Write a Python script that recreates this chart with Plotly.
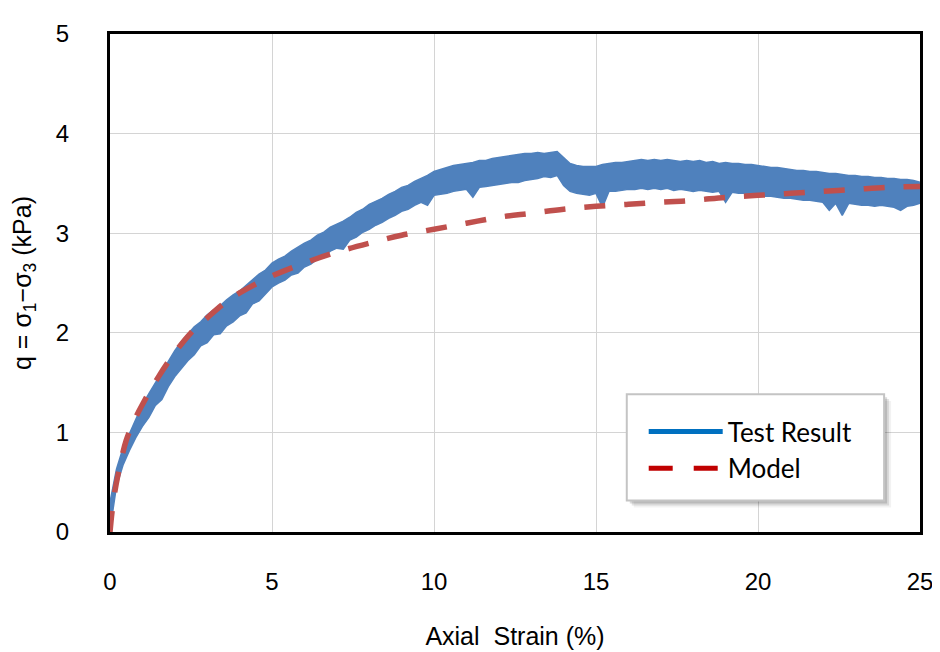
import numpy as np
import plotly.graph_objects as go

# Test result: noisy measured band, read as upper / lower edge every 0.2 % axial strain (0 .. 25 %)
TEST_Q_UPPER = [
    0.30, 0.63, 0.84, 0.99, 1.13, 1.28, 1.39, 1.50, 1.60, 1.71,
    1.82, 1.91, 1.98, 2.06, 2.11, 2.18, 2.23, 2.27, 2.33, 2.38,
    2.42, 2.48, 2.53, 2.59, 2.63, 2.70, 2.74, 2.77, 2.82, 2.86,
    2.90, 2.93, 2.98, 3.01, 3.06, 3.09, 3.12, 3.16, 3.21, 3.24,
    3.29, 3.32, 3.35, 3.39, 3.42, 3.46, 3.48, 3.52, 3.55, 3.58,
    3.62, 3.64, 3.66, 3.68, 3.69, 3.70, 3.71, 3.73, 3.73, 3.75,
    3.76, 3.77, 3.78, 3.79, 3.80, 3.80, 3.81, 3.80, 3.81, 3.82,
    3.76, 3.70, 3.68, 3.67, 3.67, 3.67, 3.69, 3.70, 3.71, 3.71,
    3.72, 3.73, 3.74, 3.73, 3.74, 3.73, 3.74, 3.73, 3.72, 3.73,
    3.72, 3.73, 3.71, 3.72, 3.70, 3.71, 3.70, 3.70, 3.69, 3.69,
    3.68, 3.67, 3.66, 3.66, 3.65, 3.64, 3.63, 3.63, 3.62, 3.62,
    3.61, 3.60, 3.60, 3.59, 3.58, 3.58, 3.57, 3.57, 3.56, 3.56,
    3.55, 3.55, 3.54, 3.54, 3.53, 3.51,
]
TEST_Q_LOWER = [
    0.02, 0.46, 0.67, 0.82, 0.95, 1.06, 1.15, 1.27, 1.33, 1.46,
    1.56, 1.64, 1.72, 1.78, 1.87, 1.90, 1.98, 1.99, 2.07, 2.11,
    2.17, 2.20, 2.29, 2.32, 2.39, 2.46, 2.50, 2.53, 2.58, 2.60,
    2.66, 2.69, 2.74, 2.77, 2.82, 2.85, 2.84, 2.93, 2.96, 3.01,
    3.04, 3.08, 3.11, 3.15, 3.18, 3.22, 3.24, 3.28, 3.31, 3.28,
    3.38, 3.39, 3.40, 3.42, 3.43, 3.44, 3.36, 3.46, 3.47, 3.48,
    3.49, 3.50, 3.51, 3.51, 3.53, 3.54, 3.55, 3.57, 3.56, 3.58,
    3.48, 3.42, 3.40, 3.39, 3.38, 3.40, 3.26, 3.42, 3.42, 3.43,
    3.44, 3.44, 3.45, 3.44, 3.45, 3.44, 3.45, 3.43, 3.44, 3.43,
    3.42, 3.43, 3.42, 3.41, 3.42, 3.31, 3.41, 3.40, 3.40, 3.39,
    3.38, 3.37, 3.37, 3.36, 3.35, 3.35, 3.34, 3.33, 3.33, 3.32,
    3.31, 3.23, 3.30, 3.18, 3.30, 3.29, 3.28, 3.28, 3.27, 3.28,
    3.27, 3.26, 3.23, 3.27, 3.28, 3.30,
]
TEST_STRAIN = np.round(np.arange(len(TEST_Q_UPPER)) * 0.2, 2)

# Model curve
MODEL_STRAIN = [0, 0.1, 0.25, 0.5, 0.75, 1, 1.5, 2, 2.5, 3, 3.5, 4, 5, 6, 7, 8, 9, 10,
                11, 12, 13, 14, 15, 16, 17, 18, 19, 20, 21, 22, 23, 24, 25]
MODEL_Q = [0, 0.30, 0.58, 0.92, 1.12, 1.28, 1.56, 1.80, 2.00, 2.15, 2.29, 2.40, 2.57,
           2.70, 2.81, 2.90, 2.98, 3.04, 3.10, 3.16, 3.20, 3.24, 3.27, 3.29, 3.31,
           3.33, 3.36, 3.38, 3.40, 3.42, 3.44, 3.46, 3.47]

X_TICKS = [0, 5, 10, 15, 20, 25]
Y_TICKS = [0, 1, 2, 3, 4, 5]
SERIES_NAMES = ["Test Result", "Model"]

BLUE = "#4F81BD"
fig = go.Figure()
fig.add_trace(go.Scatter(x=TEST_STRAIN, y=TEST_Q_LOWER, mode="lines",
                         line=dict(color=BLUE, width=1.5), showlegend=False,
                         name=SERIES_NAMES[0], hoverinfo="skip"))
fig.add_trace(go.Scatter(x=TEST_STRAIN, y=TEST_Q_UPPER, mode="lines",
                         line=dict(color=BLUE, width=1.5), fill="tonexty", fillcolor=BLUE,
                         showlegend=False, name=SERIES_NAMES[0]))
fig.add_trace(go.Scatter(x=MODEL_STRAIN, y=MODEL_Q, mode="lines", line_shape="spline",
                         line=dict(color="#C0504D", width=5.5, dash="21px,19px"),
                         showlegend=False, name=SERIES_NAMES[1]))
# legend entries
fig.add_trace(go.Scatter(x=[None], y=[None], mode="lines", legendgroup="a",
                         line=dict(color="#0070C0", width=5), name=SERIES_NAMES[0]))
fig.add_trace(go.Scatter(x=[None], y=[None], mode="lines", legendgroup="b",
                         line=dict(color="#C00000", width=5, dash="24px,21px"), name=SERIES_NAMES[1]))

tick_font = dict(family="Liberation Sans, Arial", size=24, color="#000000")
title_font = dict(family="Liberation Sans, Arial", size=25, color="#000000")
fig.update_xaxes(range=[0, 25], tickvals=X_TICKS, showgrid=True, gridcolor="#D4D4D4",
                 gridwidth=1, showline=True, linecolor="#000000", linewidth=3, mirror=True,
                 zeroline=False, tickfont=tick_font, ticks="", ticklabelstandoff=26,
                 title=dict(text="Axial  Strain (%)", font=title_font, standoff=34))
fig.update_yaxes(range=[0, 5], tickvals=Y_TICKS, showgrid=True, gridcolor="#D4D4D4",
                 gridwidth=1, showline=True, linecolor="#000000", linewidth=3, mirror=True,
                 zeroline=False, tickfont=tick_font, ticks="", ticklabelstandoff=33,
                 title=dict(text="q = σ<sub>1</sub>−σ<sub>3</sub> (kPa)", font=title_font, standoff=18))

# legend frame with drop shadow (paper coordinates)
BOX = dict(x0=0.638, x1=0.9557, y0=0.0632, y1=0.2767)
shapes = []
for off, alpha in [(7, 0.05), (5, 0.10), (3, 0.14)]:
    dx, dy = off / 812, off / 506
    shapes.append(dict(type="rect", xref="paper", yref="paper", layer="above",
                       x0=BOX["x0"] + dx, x1=BOX["x1"] + dx, y0=BOX["y0"] - dy, y1=BOX["y1"] - dy,
                       fillcolor=f"rgba(0,0,0,{alpha})", line=dict(width=0)))
shapes.append(dict(type="rect", xref="paper", yref="paper", layer="above", **BOX,
                   fillcolor="#FFFFFF", line=dict(color="#C4C4C4", width=2)))

fig.update_layout(
    width=940, height=652,
    margin=dict(l=100, r=28, t=18, b=128),
    paper_bgcolor="#FFFFFF", plot_bgcolor="#FFFFFF",
    shapes=shapes,
    legend=dict(x=0.6589, y=0.249, xanchor="left", yanchor="top",
                bgcolor="rgba(0,0,0,0)", borderwidth=0, tracegroupgap=0,
                font=dict(family="Lato, Noto Sans", size=26, color="#000000"),
                itemwidth=74),
)

fig.write_html("out.html")
